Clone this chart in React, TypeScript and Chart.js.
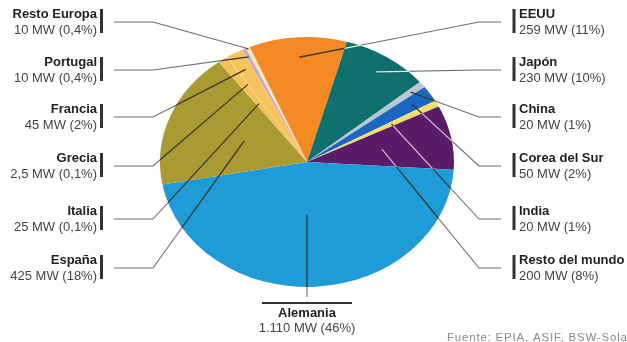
import React, { useEffect, useRef } from 'react';
import { Chart, registerables } from 'chart.js';
Chart.register(...registerables);

// ---- data ----
const categories = ['EEUU', 'Japón', 'China', 'Corea del Sur', 'India', 'Resto del mundo', 'Alemania', 'España', 'Italia', 'Grecia', 'Francia', 'Portugal', 'Resto Europa'];
const megawatts = [259, 230, 20, 50, 20, 200, 1110, 425, 25, 2.5, 45, 10, 10];
const valueLabels = ['259 MW (11%)', '230 MW (10%)', '20 MW (1%)', '50 MW (2%)', '20 MW (1%)', '200 MW (8%)', '1.110 MW (46%)', '425 MW (18%)', '25 MW (0,1%)', '2,5 MW (0,1%)', '45 MW (2%)', '10 MW (0,4%)', '10 MW (0,4%)'];
const sourceNote = 'Fuente: EPIA, ASIF, BSW-Solar';

// ---- style / layout ----
const sliceColors = ['#f58a25', '#0f6f6d', '#b9c6cf', '#1a66c2', '#f3dd6c', '#5a1c69', '#1f9bd7', '#a99b31', '#f6c15a', '#f9d37a', '#f7c35e', '#c9a5da', '#f1eab2'];
const leaderInner = ['#5a4a3a', '#dcecea', '#d0d8de', '#d9a8d8', '#d9a8d8', '#d9a8d8', '#1d3d55', '#4a4220', '#4a4220', '#4a4220', '#4a4220', '#555555', '#555555'];
const labelSide = ['right', 'right', 'right', 'right', 'right', 'right', 'bottom', 'left', 'left', 'left', 'left', 'left', 'left'];
const labelSlot = [0, 1, 2, 3, 4, 5, 0, 5, 4, 3, 2, 1, 0];
const slotY = [22, 70, 117, 166, 219, 268];
const leaderDepth = [0.84, 0.86, 0.9, 0.85, 0.65, 0.52, 0.42, 0.46, 0.57, 0.74, 0.85, 0.93, 0.99];
const W = 627;
const H = 342;
const SQUASH = 0.85;
const FONT = '"Liberation Sans", Arial, Helvetica, sans-serif';

const ellipsePlugin = {
  id: 'ellipse',
  beforeDatasetsDraw(chart: any) {
    const a = chart.getDatasetMeta(0).data[0];
    const ctx = chart.ctx;
    ctx.save();
    ctx.translate(a.x, a.y);
    ctx.scale(1, SQUASH);
    ctx.translate(-a.x, -a.y);
  },
  afterDatasetsDraw(chart: any) {
    chart.ctx.restore();
  },
};

const labelPlugin = {
  id: 'pieLabels',
  afterDraw(chart: any) {
    const ctx: CanvasRenderingContext2D = chart.ctx;
    const meta = chart.getDatasetMeta(0);
    const a0 = meta.data[0];
    const cx = a0.x, cy = a0.y, R = a0.outerRadius, RY = R * SQUASH;

    const strokePts = (pts: number[][], color: string, lw: number) => {
      ctx.beginPath();
      ctx.moveTo(pts[0][0], pts[0][1]);
      for (let k = 1; k < pts.length; k++) ctx.lineTo(pts[k][0], pts[k][1]);
      ctx.strokeStyle = color;
      ctx.lineWidth = lw;
      ctx.stroke();
    };
    const sectorPath = (s: number, e: number) => {
      ctx.beginPath();
      ctx.moveTo(cx, cy);
      const n = 40;
      for (let k = 0; k <= n; k++) {
        const t = s + ((e - s) * k) / n;
        ctx.lineTo(cx + Math.cos(t) * (R + 1), cy + Math.sin(t) * (RY + 1));
      }
      ctx.closePath();
    };

    categories.forEach((name, i) => {
      const arc = meta.data[i];
      const mid = (arc.startAngle + arc.endAngle) / 2;
      const f = leaderDepth[i];
      const side = labelSide[i];
      const ex = cx + Math.cos(mid) * R * f;
      const ey = cy + Math.sin(mid) * RY * f;
      let pts: number[][];
      const ly = slotY[labelSlot[i]];
      if (side === 'left') pts = [[114, ly], [153, ly], [ex, ey]];
      else if (side === 'right') pts = [[501, ly], [479, ly], [ex, ey]];
      else pts = [[cx, ey], [cx, 297]];

      // outside part
      ctx.save();
      ctx.beginPath();
      ctx.rect(0, 0, W, H);
      ctx.moveTo(cx + R, cy);
      ctx.ellipse(cx, cy, R, RY, 0, 0, Math.PI * 2);
      ctx.clip('evenodd');
      strokePts(pts, '#6e6e6e', 1.1);
      ctx.restore();
      // inside part
      ctx.save();
      ctx.beginPath();
      ctx.ellipse(cx, cy, R, RY, 0, 0, Math.PI * 2);
      ctx.clip();
      strokePts(pts, '#3a3a30', 1.3);
      ctx.restore();
      // light version over dark slices
      [1, 5].forEach((k) => {
        const ak = meta.data[k];
        ctx.save();
        sectorPath(ak.startAngle, ak.endAngle);
        ctx.clip();
        strokePts(pts, leaderInner[k], 1.3);
        ctx.restore();
      });

      // labels
      ctx.textBaseline = 'middle';
      if (side === 'left') {
        ctx.fillStyle = '#333';
        ctx.fillRect(100, ly - 13, 3, 24);
        ctx.textAlign = 'right';
        ctx.fillStyle = '#222';
        ctx.font = `bold 13px ${FONT}`;
        ctx.fillText(name, 97, ly - 8);
        ctx.fillStyle = '#444';
        ctx.font = `13px ${FONT}`;
        ctx.fillText(valueLabels[i], 97, ly + 8);
      } else if (side === 'right') {
        ctx.fillStyle = '#333';
        ctx.fillRect(512.5, ly - 13, 3, 24);
        ctx.textAlign = 'left';
        ctx.fillStyle = '#222';
        ctx.font = `bold 13px ${FONT}`;
        ctx.fillText(name, 519, ly - 8);
        ctx.fillStyle = '#444';
        ctx.font = `13px ${FONT}`;
        ctx.fillText(valueLabels[i], 519, ly + 8);
      } else {
        ctx.fillStyle = '#333';
        ctx.fillRect(cx - 45, 302, 90, 2);
        ctx.textAlign = 'center';
        ctx.fillStyle = '#222';
        ctx.font = `bold 13px ${FONT}`;
        ctx.fillText(name, cx, 313);
        ctx.fillStyle = '#444';
        ctx.font = `13px ${FONT}`;
        ctx.fillText(valueLabels[i], cx, 328);
      }
    });

    ctx.textAlign = 'left';
    ctx.textBaseline = 'alphabetic';
    ctx.fillStyle = '#8a8a8a';
    ctx.font = `11.5px ${FONT}`;
    (ctx as any).letterSpacing = '0.8px';
    ctx.fillText(sourceNote, 447, 341);
    (ctx as any).letterSpacing = '0px';
  },
};

export default function App() {
  const ref = useRef<HTMLCanvasElement | null>(null);
  useEffect(() => {
    if (!ref.current) return;
    const chart = new Chart(ref.current, {
      type: 'pie',
      data: {
        labels: categories,
        datasets: [
          {
            data: megawatts,
            backgroundColor: sliceColors,
            borderWidth: 0,
          },
        ],
      },
      options: {
        animation: false,
        responsive: false,
        rotation: -23,
        layout: { padding: { left: 160, right: 173, top: 15, bottom: 33 } },
        plugins: { legend: { display: false }, tooltip: { enabled: false } },
      },
      plugins: [ellipsePlugin, labelPlugin],
    } as any);
    return () => chart.destroy();
  }, []);
  return (
    <div style={{ position: 'absolute', left: 0, top: 0, width: W, height: H, background: '#fff' }}>
      <canvas ref={ref} width={W} height={H} style={{ display: 'block' }} />
    </div>
  );
}
